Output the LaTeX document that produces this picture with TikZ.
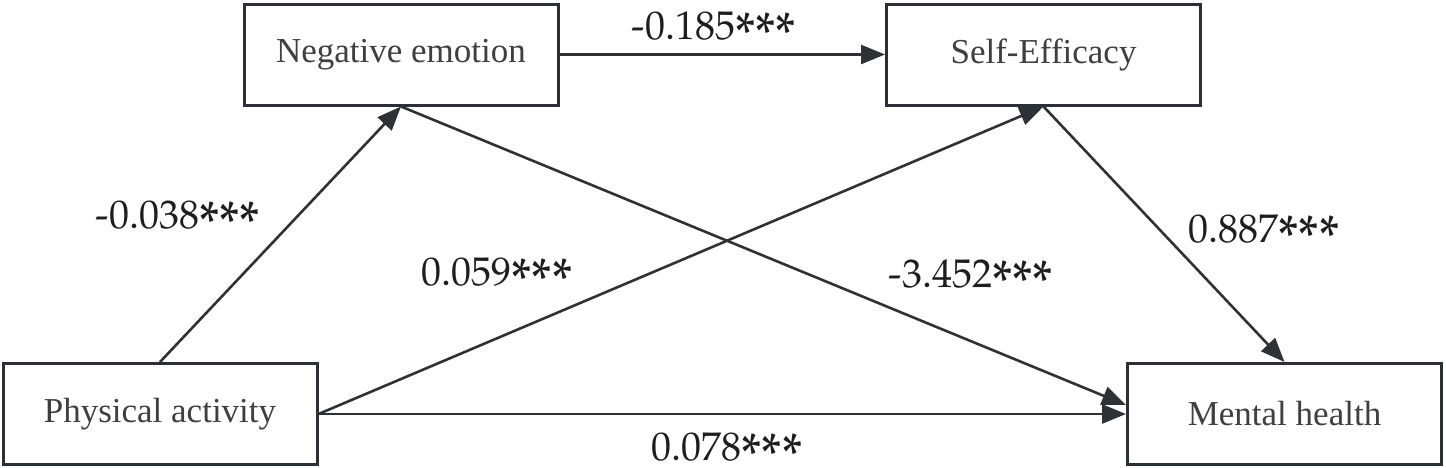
\documentclass[tikz,border=0pt]{standalone}
\usepackage{graphicx}
\usepackage{fontspec}
\setmainfont{Liberation Serif}
\newfontfamily\numfont{texgyrepagella-regular.otf}
\newcommand{\sigstars}{\smash{\raisebox{-15pt}{\scalebox{1.3}[1.5]{***}}}}
\usetikzlibrary{arrows.meta}
\definecolor{boxline}{HTML}{2A3036}
\definecolor{labtext}{HTML}{3F3F3F}
\definecolor{arrowc}{HTML}{2E3236}
\definecolor{numtext}{HTML}{1E1E1E}
\begin{document}
\begin{tikzpicture}[x=1pt,y=-1pt,
  varbox/.style={draw=boxline, line width=3pt, fill=white, minimum width=314pt, minimum height=101pt,
    inner sep=0pt, text=labtext, font=\fontsize{35}{40}\selectfont},
  conn/.style={draw=arrowc, line width=2.6pt, -{Triangle[length=24pt,width=19pt]}},
  coef/.style={text=numtext, font=\numfont\fontsize{40}{44}\selectfont, inner sep=0pt}]
\useasboundingbox (0,0) rectangle (1446,467);
\node[varbox] (NE) at (401,54.5) {Negative emotion};
\node[varbox] (SE) at (1043.5,54.5) {Self-Efficacy};
\node[varbox] (PA) at (160,414) {Physical activity};
\node[varbox] (MH) at (1284.5,414) {Mental health};
\draw[conn] (NE.east) -- (SE.west);
\draw[conn] (PA.north) -- (NE.south);
\draw[conn] (PA.east) -- (SE.south);
\draw[conn] (PA.east) -- (MH.west);
\draw[conn] (NE.south) -- ([yshift=9pt]MH.west);
\draw[conn] (SE.south) -- (MH.north);
\node[coef] (c1) at (714,26) {-0.185\sigstars};
\node[coef] (c2) at (178,215) {-0.038\sigstars};
\node[coef] (c3) at (497,272) {0.059\sigstars};
\node[coef] (c4) at (971,274) {-3.452\sigstars};
\node[coef] (c5) at (1264,229) {0.887\sigstars};
\node[coef] (c6) at (727,447) {0.078\sigstars};
\end{tikzpicture}
\end{document}
